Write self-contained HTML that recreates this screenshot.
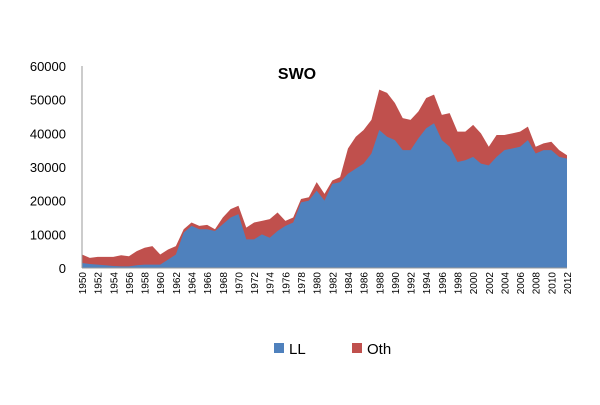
<!DOCTYPE html>
<html><head><meta charset="utf-8"><style>
body{margin:0;background:#fff;font-family:"Liberation Sans",sans-serif}
svg text{font-family:"Liberation Sans",sans-serif}
</style></head><body>
<svg id="c" width="600" height="400"></svg>
<script>
const years=[];for(let y=1950;y<=2012;y++)years.push(y);
const llValues=[1.5,1.2,1.0,0.8,0.6,0.5,0.5,0.8,1.0,1.0,1.0,2.5,4,10.5,12.5,11.5,11.5,11,13,15,16,8.5,8.5,10,9,11,12.5,13.5,19.5,20,23,20,25,25.5,28,29.5,31,34,41,39,38,35,35,38.5,41.5,43,38,36,31.5,32,33,31,30.5,33,35,35.5,36,38,34,35,35,33,32.5].map(v=>v*1000);
const othValues=[2.5,1.8,2.3,2.5,2.7,3.3,3,4.2,5,5.5,3,3,2.5,1,1,1,1.3,0.5,2,2.5,2.5,3.5,5,4,5.5,5.5,1.5,1.5,1,1,2.5,2,1,1.5,7.5,9.5,10,10,12,13,11,9.5,9,8,9,8.5,7.5,10,9,8.5,9.5,9,5.5,6.5,4.5,4.5,4.5,4,2,2,2.5,2,1].map(v=>v*1000);
const yTicks=[0,10000,20000,30000,40000,50000,60000];
const svg=document.getElementById('c');const NS='http://www.w3.org/2000/svg';
const x0=82,x1=567,yb=268,yt=66,ymax=60000;
const xs=i=>x0+(x1-x0)*i/(years.length-1);
const ys=v=>yb-(yb-yt)*v/ymax;
function mk(t,a){const e=document.createElementNS(NS,t);for(const k in a)e.setAttribute(k,a[k]);svg.appendChild(e);return e;}
// title
let t=mk('text',{x:297,y:79,'font-size':16,'font-weight':'bold','text-anchor':'middle'});t.textContent='SWO';


// y ticks
yTicks.forEach(v=>{const e=mk('text',{x:66,y:ys(v)+5,'font-size':13,'text-anchor':'end',fill:'#000'});e.textContent=v;

});
// areas
const tot=llValues.map((v,i)=>v+othValues[i]);
let p='M'+xs(0)+','+yb;tot.forEach((v,i)=>p+=' L'+xs(i)+','+ys(v));p+=' L'+xs(years.length-1)+','+yb+'Z';
let a=mk('path',{d:p,fill:'#c0504d'});


p='M'+xs(0)+','+yb;llValues.forEach((v,i)=>p+=' L'+xs(i)+','+ys(v));p+=' L'+xs(years.length-1)+','+yb+'Z';
a=mk('path',{d:p,fill:'#4f81bd'});


// axes
let ax=mk('line',{x1:x0,y1:yt,x2:x0,y2:yb,stroke:'#999'});


ax=mk('line',{x1:x0,y1:yb,x2:x1,y2:yb,stroke:'#999'});


// x labels
years.forEach((y,i)=>{if(i%2)return;const x=xs(i)+4;const e=mk('text',{x:x,y:272,'font-size':10,'text-anchor':'end',transform:'rotate(-90 '+x+' 272)'});e.textContent=y;

});
// legend
let r=mk('rect',{x:274,y:343,width:10,height:10,fill:'#4f81bd'});


t=mk('text',{x:289,y:354,'font-size':15});t.textContent='LL';


r=mk('rect',{x:352,y:343,width:10,height:10,fill:'#c0504d'});


t=mk('text',{x:367,y:354,'font-size':15});t.textContent='Oth';


</script>
</body></html>
